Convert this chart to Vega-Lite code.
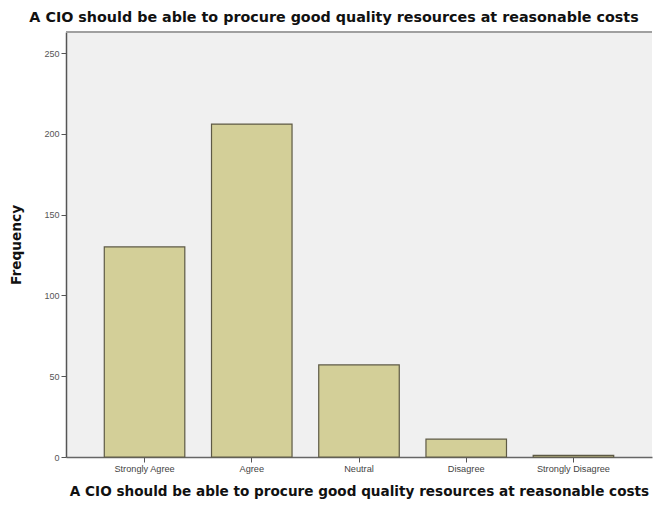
{
  "$schema": "https://vega.github.io/schema/vega-lite/v6.json",
  "width": 586,
  "height": 425,
  "autosize": {"type": "none"},
  "padding": {"left": 66, "top": 32, "right": 2, "bottom": 49},
  "background": "white",
  "title": {
    "text": "A CIO should be able to procure good quality resources at reasonable costs",
    "font": "DejaVu Sans",
    "fontSize": 14.3,
    "fontWeight": "bold",
    "color": "#111111",
    "anchor": "middle",
    "dx": -25,
    "offset": 6
  },
  "config": {
    "view": {"fill": "#f0f0f0", "stroke": null},
    "axis": {"labelFont": "Liberation Sans", "titleFont": "DejaVu Sans"}
  },
  "data": {
    "values": [
      {"response": "Strongly Agree", "frequency": 130},
      {"response": "Agree", "frequency": 206},
      {"response": "Neutral", "frequency": 57},
      {"response": "Disagree", "frequency": 11},
      {"response": "Strongly Disagree", "frequency": 1}
    ]
  },
  "layer": [
    {
      "mark": {"type": "bar", "fill": "#d3cf98", "stroke": "#5e5a45", "strokeWidth": 1.2},
      "encoding": {
        "x": {
          "field": "response",
          "type": "nominal",
          "sort": null,
          "scale": {"paddingInner": 0.249, "paddingOuter": 0.357},
          "axis": {
            "title": "A CIO should be able to procure good quality resources at reasonable costs",
            "titleFontSize": 13.6,
            "titleFontWeight": "bold",
            "titleColor": "#111111",
            "titlePadding": 11,
            "labelAngle": 0,
            "labelFontSize": 9.2,
            "labelColor": "#444444",
            "labelPadding": 2,
            "tickSize": 5,
            "tickColor": "#555555",
            "domainColor": "#666666",
            "domainWidth": 1.5,
            "grid": false
          }
        },
        "y": {
          "field": "frequency",
          "type": "quantitative",
          "scale": {"domain": [0, 263], "nice": false},
          "axis": {
            "title": "Frequency",
            "titleFontSize": 13.7,
            "titleFontWeight": "bold",
            "titleColor": "#111111",
            "titlePadding": 20,
            "values": [0, 50, 100, 150, 200, 250],
            "labelFontSize": 9,
            "labelColor": "#555555",
            "labelPadding": 2,
            "tickSize": 5,
            "tickColor": "#555555",
            "domainColor": "#555555",
            "domainWidth": 1.5,
            "grid": false
          }
        }
      }
    },
    {
      "data": {"values": [{"top": 263}]},
      "mark": {"type": "rule", "stroke": "#a0a0a0", "strokeWidth": 2},
      "encoding": {"y": {"field": "top", "type": "quantitative"}}
    }
  ]
}
